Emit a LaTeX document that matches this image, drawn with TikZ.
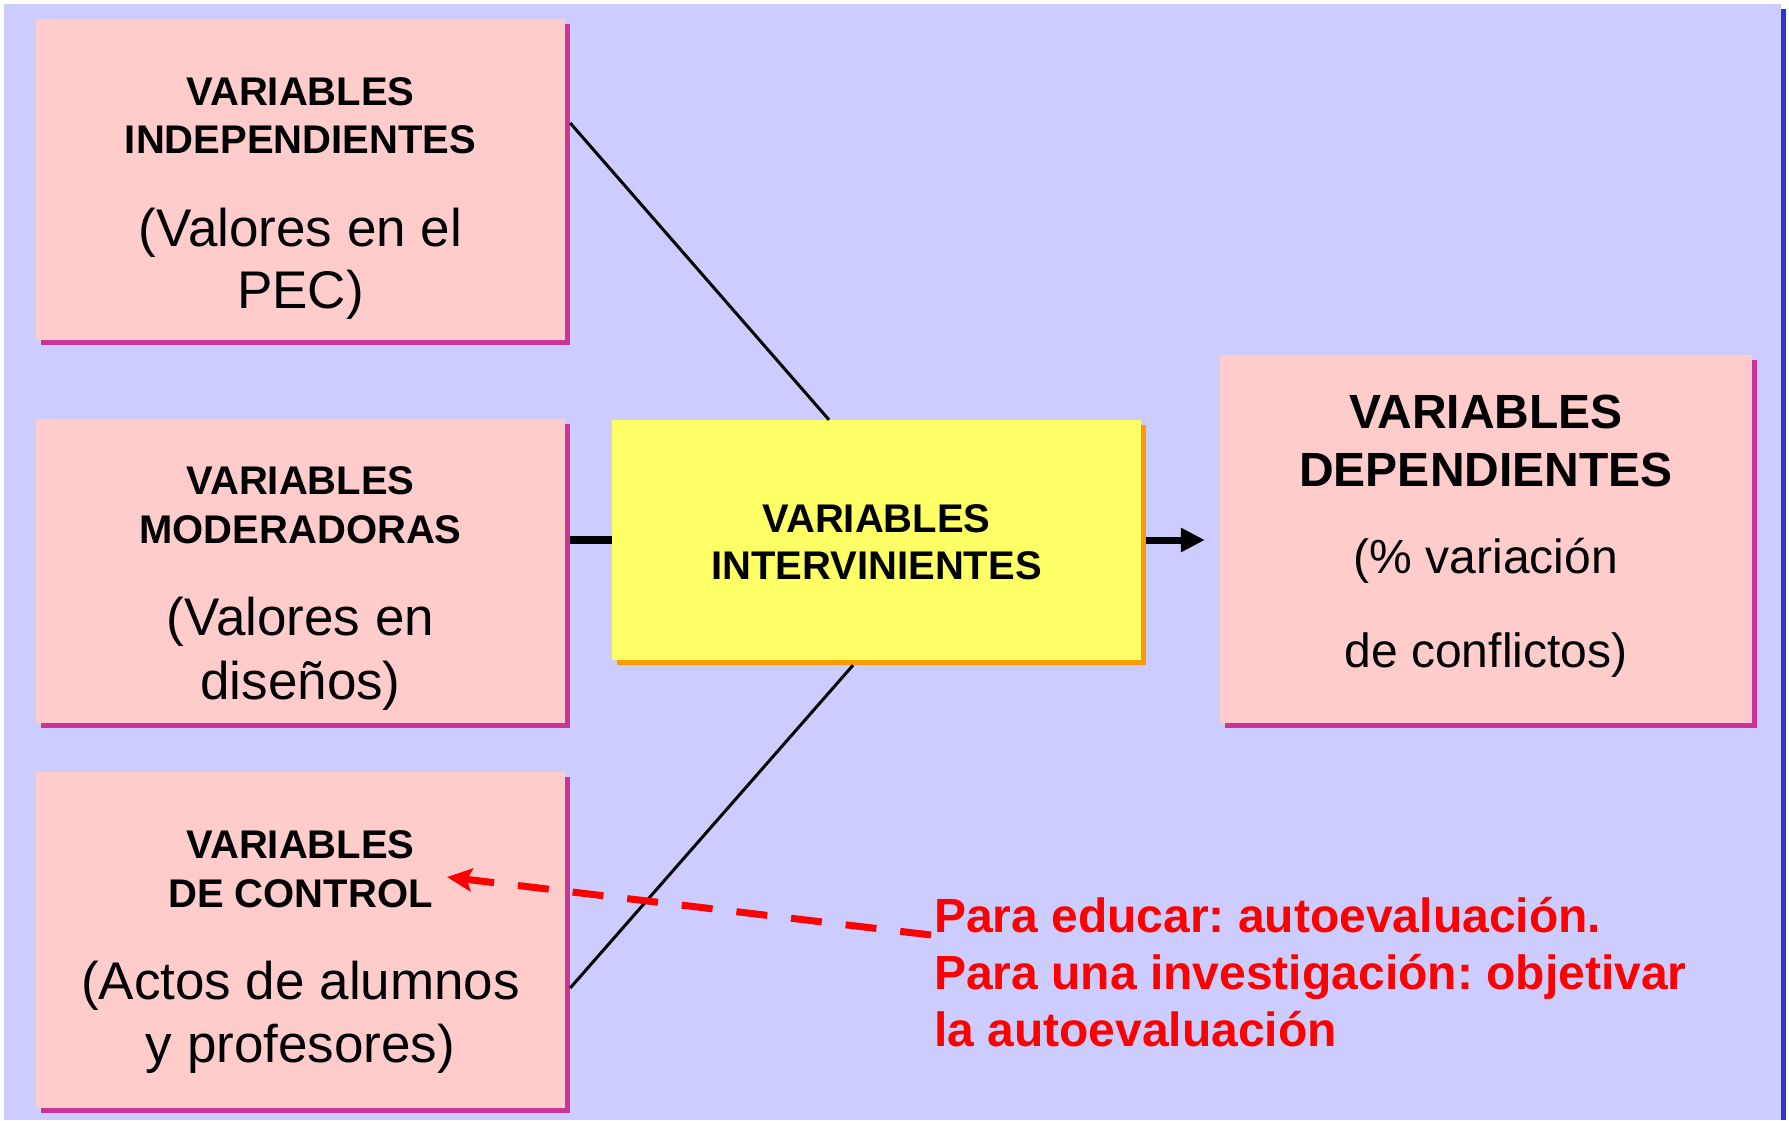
\documentclass[tikz,border=0pt]{standalone}
\usepackage{fontspec}
\setmainfont{Liberation Sans}
\usetikzlibrary{shadows,arrows.meta,calc}
\definecolor{bgc}{HTML}{CCCCFF}
\definecolor{pinkc}{HTML}{FFCCCC}
\definecolor{magc}{HTML}{CC3399}
\definecolor{yelc}{HTML}{FFFF66}
\definecolor{orac}{HTML}{FF9900}
\definecolor{bluec}{HTML}{3333CC}
\definecolor{redc}{HTML}{FF0000}
\tikzset{
  pinkbox/.style={rectangle, inner sep=0pt, fill=pinkc,
    drop shadow={shadow xshift=5pt, shadow yshift=-5pt, fill=magc, opacity=1}},
  yelbox/.style={rectangle, inner sep=0pt, fill=yelc,
    drop shadow={shadow xshift=5pt, shadow yshift=-5pt, fill=orac, opacity=1}},
  ttl/.style={anchor=base, inner sep=0pt, font=\fontsize{40}{48}\selectfont\bfseries},
  sub/.style={anchor=base, inner sep=0pt, font=\fontsize{53}{63}\selectfont},
  dttl/.style={anchor=base, inner sep=0pt, font=\fontsize{48}{58}\selectfont\bfseries},
  dsub/.style={anchor=base, inner sep=0pt, font=\fontsize{48}{58}\selectfont},
  redtxt/.style={anchor=base west, inner sep=0pt, text=redc, font=\fontsize{48}{57}\selectfont\bfseries},
  thinline/.style={draw=black, line width=3pt},
  thickline/.style={draw=black, line width=8pt},
}
\frenchspacing
\begin{document}
\frenchspacing
\begin{tikzpicture}[x=1pt, y=-1pt]
\useasboundingbox (0,0) rectangle (1789,1120);
\fill[white] (0,0) rectangle (1789,1120);
\fill[bluec] (1781,9) rectangle (1786,1120);
\fill[bgc] (4,4) rectangle (1781,1120);

% boxes
\node[pinkbox, minimum width=529pt, minimum height=321pt] (b1) at (300.5,179.5) {};
\node[pinkbox, minimum width=529pt, minimum height=304pt] (b2) at (300.5,571) {};
\node[pinkbox, minimum width=529pt, minimum height=336pt] (b3) at (300.5,940) {};
\node[yelbox, minimum width=529pt, minimum height=240pt] (yb) at (876.5,540) {};
\node[pinkbox, minimum width=532pt, minimum height=368pt] (db) at (1486,539) {};

% texts box 1
\node[ttl] (b1t1) at (300.5,105) {VARIABLES};
\node[ttl] (b1t2) at (300.5,153) {INDEPENDIENTES};
\node[sub] (b1s1) at (300.5,246) {(Valores en el};
\node[sub] (b1s2) at (300.5,308) {PEC)};
% box 2
\node[ttl] (b2t1) at (300.5,494) {VARIABLES};
\node[ttl] (b2t2) at (300.5,543) {MODERADORAS};
\node[sub] (b2s1) at (300.5,635) {(Valores en};
\node[sub] (b2s2) at (300.5,699) {diseños)};
% box 3
\node[ttl] (b3t1) at (300.5,858) {VARIABLES};
\node[ttl] (b3t2) at (300.5,907) {DE CONTROL};
\node[sub] (b3s1) at (300.5,999) {(Actos de alumnos};
\node[sub] (b3s2) at (300.5,1062) {y profesores)};
% yellow
\node[ttl] (yt1) at (876.5,532) {VARIABLES};
\node[ttl] (yt2) at (876.5,579) {INTERVINIENTES};
% dependientes
\node[dttl] (dt1) at (1486,428) {VARIABLES};
\node[dttl] (dt2) at (1486,486) {DEPENDIENTES};
\node[dsub] (ds1) at (1486,573) {(\% variación};
\node[dsub] (ds2) at (1486,667) {de conflictos)};

% red text
\node[redtxt] (r1) at (934,932) {Para educar: autoevaluación.};
\node[redtxt] (r2) at (934,989) {Para una investigación: objetivar};
\node[redtxt] (r3) at (934,1046) {la autoevaluación};

% connectors
\draw[thinline] ([shift={(5,-56.5)}]b1.east) -- ([xshift=-47.5]yb.north);
\draw[thinline] ([shift={(5,48)}]b3.east) -- ([shift={(-23.5,5)}]yb.south);
\draw[thickline] ([xshift=5]b2.east |- yb.west) -- (yb.west);
\draw[draw=black, line width=7pt, -{Triangle[length=24pt,width=23pt]}, shorten >=15pt]
  ([xshift=5]yb.east) -- (db.west |- yb.east);
\coordinate (rtip) at (447,877);
\draw[draw=redc, line width=7pt, dash pattern=on 31pt off 24pt,
  -{Stealth[length=25pt,width=23pt,inset=5pt]}]
  ([shift={(-3,3)}]r1.base west) -- (rtip);
\end{tikzpicture}
\end{document}
